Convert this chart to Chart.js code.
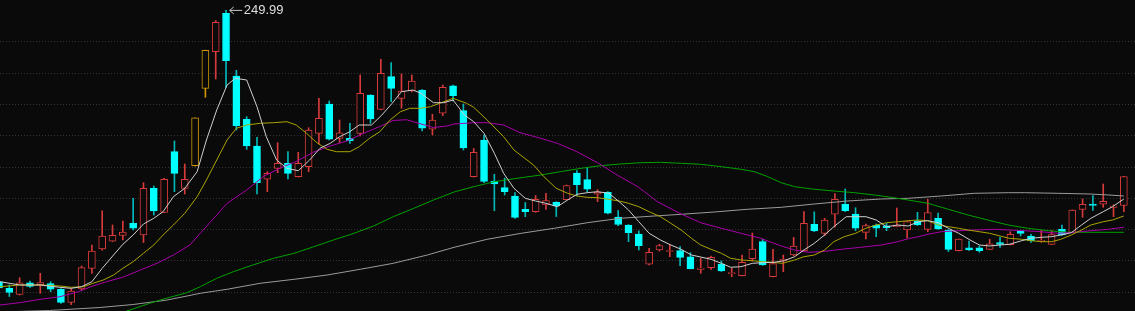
<!DOCTYPE html>
<html>
<head>
<meta charset="utf-8">
<script src="https://cdn.jsdelivr.net/npm/chart.js@4/dist/chart.umd.min.js"></script>
<style>
  html, body { margin: 0; padding: 0; background: #0a0a0a; overflow: hidden; }
  #wrap { position: relative; width: 1135px; height: 311px; }
</style>
</head>
<body>
<div id="wrap"><canvas id="c"></canvas></div>
<script>
// ---- candle data (index = trading day) ----
const opens = [163.39,161.28,159.31,163.07,162.43,162.82,160.97,156.75,161.06,167.61,
  173.89,176.29,178.20,182.03,178.30,193.20,185.54,204.89,193.20,200.42,
  225.12,236.81,249.06,229.05,215.23,206.71,196.08,199.59,201.19,196.91,
  200.10,210.76,220.11,209.16,209.16,210.76,222.99,218.42,228.83,221.93,
  224.26,224.58,212.04,217.15,225.95,217.98,196.91,208.62,195.53,193.46,
  190.75,186.50,185.74,187.87,188.74,189.57,198.09,195.95,191.32,191.93,
  184.04,181.49,178.62,168.95,173.51,173.03,173.35,171.37,167.35,167.86,
  169.04,165.95,165.31,170.73,176.16,164.99,170.00,171.91,173.19,181.71,
  178.84,184.91,188.10,185.00,179.16,181.39,181.24,180.95,179.89,182.83,
  180.05,183.63,179.89,173.29,174.24,174.24,173.73,175.90,175.20,179.67,
  177.98,176.22,175.33,180.12,179.10,186.50,188.13,188.10,187.14,187.71];
const closes = [161.38,159.94,163.07,161.92,163.14,161.00,156.75,160.42,167.86,173.19,
  177.98,178.20,179.26,180.44,193.20,186.02,196.08,197.99,196.08,215.69,
  237.26,246.19,233.93,213.19,206.71,194.99,197.99,201.19,197.99,201.19,
  211.81,215.55,208.85,210.95,208.40,223.53,215.33,229.91,225.12,224.26,
  227.46,212.36,215.01,225.44,222.76,206.07,204.70,195.38,194.58,192.12,
  183.95,185.74,189.69,189.31,187.62,194.10,194.35,192.89,192.02,185.23,
  181.65,179.03,174.88,172.78,174.95,173.35,171.18,167.54,167.76,171.18,
  166.81,166.26,169.58,173.83,168.72,169.14,170.54,174.79,182.03,179.64,
  183.09,189.72,186.05,180.44,181.27,180.44,180.63,181.43,182.61,181.49,
  185.48,180.21,173.73,176.96,173.51,173.29,175.52,175.33,178.55,178.84,
  176.45,176.61,178.46,178.30,186.28,188.10,187.71,189.06,187.56,196.97];
const highs = [163.93,162.34,164.67,163.62,166.07,163.39,161.22,161.16,168.40,175.11,
  186.02,181.49,182.77,190.01,194.99,193.94,196.40,208.30,200.96,215.69,
  237.30,246.77,249.99,230.87,216.06,209.48,198.50,207.76,204.89,204.70,
  212.55,221.93,221.07,215.01,213.95,229.37,223.10,234.38,233.30,229.69,
  229.37,224.70,216.83,226.18,226.18,220.11,205.91,210.22,197.67,196.49,
  191.80,188.67,190.91,191.61,188.93,194.26,198.89,199.91,192.82,192.18,
  186.12,181.60,179.58,174.05,175.33,175.27,174.63,172.65,170.86,171.60,
  170.00,167.67,171.91,178.94,176.96,173.73,171.91,177.56,185.74,185.70,
  183.63,191.54,192.98,187.01,181.81,181.81,182.03,186.92,182.70,185.54,
  189.69,185.32,180.00,177.00,176.38,174.79,176.96,177.56,179.35,179.83,
  178.52,179.83,179.80,181.49,186.35,189.79,190.91,194.58,187.97,197.00];
const lows = [160.90,158.67,159.15,161.60,159.69,160.20,156.43,156.05,160.74,166.07,
  173.41,176.16,176.70,179.89,175.90,184.68,185.40,192.12,191.39,200.30,
  222.25,228.09,225.44,211.81,205.65,191.39,192.12,198.18,196.17,196.81,
  198.50,207.35,208.62,207.82,207.57,209.90,213.95,218.20,220.85,218.74,
  223.94,211.50,210.22,216.38,221.07,205.43,196.80,194.99,186.05,191.07,
  183.63,184.14,185.54,186.50,184.20,189.47,190.75,192.02,188.93,185.00,
  181.27,176.16,173.51,168.72,173.19,171.37,168.50,167.45,166.07,167.35,
  166.65,164.99,165.20,170.00,168.60,164.90,166.58,171.69,173.10,179.35,
  178.07,180.76,185.74,179.67,177.02,177.76,179.67,180.90,177.25,181.33,
  179.35,180.05,173.03,173.20,173.35,172.78,173.67,174.31,175.11,177.98,
  175.97,175.97,175.27,178.14,179.03,183.95,186.12,187.14,184.14,185.74];
const limitUpDays = [19, 20];

// ---- moving averages: [day index, price] ----
const ma5 = [[0.1,163.39],[2.0,162.34],[4.0,162.34],[5.9,161.60],[7.0,161.28],[8.0,161.80],[9.0,163.39],
  [10.0,167.67],[11.1,171.91],[12.0,175.33],[13.0,178.30],[14.0,181.81],[15.0,183.63],[15.9,185.74],
  [16.9,190.52],[18.0,193.20],[19.2,198.50],[20.1,208.62],[21.1,218.20],[22.1,226.18],[22.9,228.32],
  [24.0,227.77],[25.0,219.25],[25.9,209.67],[26.9,202.24],[27.9,199.59],[29.0,198.82],[30.1,202.24],
  [31.1,205.97],[32.1,207.57],[33.0,209.67],[34.0,211.27],[34.9,213.41],[36.1,213.41],[37.1,216.60],
  [38.1,220.34],[39.0,224.04],[40.1,224.58],[40.9,223.53],[42.1,220.53],[43.1,220.53],[44.0,221.39],
  [45.1,216.60],[46.0,214.46],[47.0,210.76],[48.0,204.38],[48.9,197.99],[49.9,193.20],[51.0,190.01],
  [52.0,189.15],[53.0,188.42],[54.1,187.33],[55.1,189.47],[56.0,191.29],[57.0,191.80],[58.0,192.12],
  [59.1,191.61],[60.1,188.93],[61.0,186.28],[62.0,182.54],[63.0,178.84],[64.1,176.70],[65.1,175.11],
  [66.1,173.73],[67.1,171.91],[69.0,170.54],[70.0,169.26],[70.9,167.99],[71.9,168.18],[73.0,169.26],
  [74.0,169.46],[75.1,169.58],[76.1,170.10],[77.1,171.37],[78.0,173.51],[79.0,175.65],[80.0,178.30],
  [80.9,180.95],[82.1,184.14],[83.0,184.14],[84.0,184.14],[85.0,183.09],[86.0,180.95],[87.1,181.49],
  [88.1,181.17],[89.1,182.54],[90.0,182.86],[91.0,182.22],[92.0,180.44],[93.0,178.84],[94.1,176.70],
  [95.0,175.11],[96.0,174.79],[97.0,175.11],[97.9,175.33],[99.1,176.48],[100.0,177.25],[101.0,177.56],
  [102.0,177.76],[102.9,178.30],[103.9,179.03],[104.9,181.49],[105.8,183.63],[107.0,185.74],[107.9,187.33],
  [109.0,189.79]];
const ma10 = [[0.1,161.80],[2.0,162.34],[4.0,162.34],[5.9,162.02],[7.0,161.60],[8.2,161.80],[9.1,162.88],
  [10.1,163.93],[11.1,165.53],[12.0,167.67],[13.0,169.78],[14.0,172.46],[15.0,175.11],[15.9,178.30],
  [16.9,181.49],[18.0,185.22],[19.2,190.52],[20.1,195.85],[21.1,202.24],[22.1,208.62],[23.0,212.36],
  [24.0,213.41],[25.3,213.95],[26.6,214.14],[27.9,214.46],[28.8,213.41],[29.8,210.76],[30.8,207.76],
  [31.8,205.65],[32.7,204.89],[34.0,204.89],[34.9,206.48],[35.9,209.16],[36.9,211.27],[37.9,215.01],
  [38.9,217.66],[39.8,218.74],[40.8,218.74],[41.8,219.25],[42.7,220.34],[44.0,221.93],[45.3,220.34],
  [46.0,219.06],[47.3,215.01],[48.9,209.67],[49.9,205.43],[51.8,200.64],[52.8,196.91],[54.0,193.20],
  [55.1,191.61],[56.0,190.75],[57.0,190.33],[58.0,190.21],[59.1,189.69],[60.1,189.15],[61.0,188.42],
  [62.0,187.33],[63.0,185.74],[64.1,184.14],[65.1,182.03],[66.1,179.89],[67.1,177.25],[68.0,175.11],
  [69.0,173.73],[70.0,172.46],[70.9,170.86],[71.9,170.32],[73.0,170.10],[74.0,169.78],[75.0,169.58],
  [75.9,169.26],[77.1,170.32],[78.0,171.37],[79.0,171.91],[80.0,173.51],[80.9,176.16],[81.9,177.76],
  [83.0,178.84],[84.0,180.44],[85.0,181.49],[86.0,182.22],[87.1,182.54],[88.1,182.86],[89.1,183.09],
  [90.0,182.86],[91.0,181.49],[92.0,180.95],[93.0,180.44],[93.9,179.89],[95.0,179.35],[96.0,178.84],
  [97.0,177.98],[97.9,177.25],[99.1,176.93],[100.0,176.48],[101.0,176.16],[102.0,176.16],[102.9,176.93],
  [103.9,178.30],[104.9,179.89],[105.8,181.49],[107.0,182.54],[107.9,183.09],[109.0,184.36]];
const ma20 = [[0.1,155.95],[2.0,156.69],[4.0,157.78],[5.9,158.60],[7.7,160.20],[8.9,161.80],[10.4,163.39],
  [12.0,164.80],[13.7,167.13],[15.3,169.26],[16.9,171.91],[18.5,175.11],[19.5,178.84],[21.1,184.68],
  [22.1,188.42],[24.0,192.66],[25.6,196.91],[27.2,199.59],[28.8,201.76],[30.5,204.79],[32.1,206.71],
  [33.7,208.30],[35.3,210.70],[36.9,212.93],[38.2,214.85],[39.5,215.10],[40.8,213.83],[42.1,212.61],
  [43.4,213.09],[44.1,213.73],[46.0,214.14],[47.3,214.14],[48.9,213.41],[50.5,210.95],[52.5,209.16],
  [54.1,207.57],[56.0,204.89],[58.0,201.38],[59.9,197.45],[61.9,193.72],[63.8,188.93],[66.1,185.00],
  [68.0,182.22],[70.0,180.44],[71.9,178.84],[73.8,177.25],[75.8,174.79],[77.1,173.51],[78.4,172.78],
  [79.7,172.97],[81.6,173.73],[83.5,174.37],[85.5,175.11],[87.1,176.16],[88.1,177.12],[89.1,177.76],
  [90.0,178.52],[91.3,179.35],[93.0,179.67],[94.5,179.89],[96.5,180.12],[97.8,179.89],[99.4,179.67],
  [101.0,179.35],[102.6,178.84],[104.2,179.16],[105.8,179.67],[107.5,180.12],[109.0,180.76]];
const ma60 = [[9.8,151.17],[12.4,154.04],[14.6,156.50],[16.2,158.09],[18.2,159.88],[19.5,161.80],
  [21.1,164.48],[22.7,166.58],[24.6,168.72],[26.6,170.86],[28.6,172.46],[30.5,174.56],[32.4,176.70],
  [34.4,178.84],[36.3,181.17],[38.2,184.14],[40.2,186.82],[42.1,189.47],[44.1,192.02],[46.0,193.72],
  [48.0,195.31],[50.6,196.59],[52.5,197.45],[54.4,198.50],[56.4,199.59],[58.3,200.42],[60.2,200.96],
  [62.2,201.38],[64.1,201.50],[66.1,201.19],[68.0,200.87],[70.0,200.10],[71.9,199.27],[73.2,198.50],
  [74.5,196.91],[75.8,194.99],[77.1,193.72],[79.0,192.89],[80.9,192.34],[82.9,191.80],[84.8,191.07],
  [86.7,190.20],[88.1,189.47],[90.0,188.42],[92.0,186.50],[93.9,184.68],[95.8,183.09],[97.8,181.49],
  [99.7,180.44],[101.7,179.67],[103.6,179.16],[105.5,179.16],[109.0,179.16]];
const ma120 = [[0.1,153.72],[4.9,154.20],[9.8,155.16],[13.0,156.11],[16.3,157.55],[19.5,159.69],
  [22.1,160.97],[25.3,162.88],[28.6,164.16],[31.8,165.53],[35.0,167.35],[38.2,169.26],[41.5,171.91],
  [44.1,174.37],[47.3,176.93],[50.6,178.84],[53.8,180.44],[57.0,182.22],[60.2,183.63],[63.5,184.36],
  [66.1,184.90],[69.3,185.64],[72.5,186.50],[75.8,187.14],[79.0,188.19],[82.2,189.15],[85.5,189.79],
  [88.1,190.01],[91.3,190.75],[94.5,191.61],[97.8,191.80],[99.4,191.80],[102.6,191.61],[105.8,191.38],
  [107.5,191.07],[109.0,190.75]];
const gridPrices = [160,170,180,190,200,210,220,230,240];

// ---- styling ----
const BG = '#0a0a0a';
const UP = 'rgb(214,58,58)';
const DOWN = '#00ffff';
const DOWN_WICK = '#00b8b8';
const LIMIT = 'rgb(205,150,0)';

function kind(i) {
  if (limitUpDays.includes(i)) return 'limit';
  return closes[i] >= opens[i] ? 'up' : 'down';
}
const edgeColor = i => ({limit: LIMIT, up: UP, down: DOWN})[kind(i)];
const wickColor = i => ({limit: LIMIT, up: UP, down: DOWN_WICK})[kind(i)];
const fillColor = i => kind(i) === 'down' ? DOWN : BG;

const bgPlugin = {
  id: 'bg',
  beforeDraw(chart) {
    const c = chart.ctx;
    c.save(); c.fillStyle = BG; c.fillRect(0, 0, chart.width, chart.height); c.restore();
  }
};

const peakPlugin = {
  id: 'peak',
  afterDatasetsDraw(chart) {
    const xs = chart.scales.x, ys = chart.scales.y, c = chart.ctx;
    let k = 0;
    highs.forEach((h, i) => { if (h > highs[k]) k = i; });
    const px = xs.getPixelForValue(k) + 3.7;
    const py = ys.getPixelForValue(highs[k]);
    c.save();
    c.strokeStyle = '#c8c8c8';
    c.lineWidth = 1;
    c.beginPath();
    c.moveTo(px + 12.5, py); c.lineTo(px, py);
    c.moveTo(px + 4, py - 3.5); c.lineTo(px, py); c.lineTo(px + 4, py + 3.5);
    c.stroke();
    c.fillStyle = '#dedede';
    c.font = '13px "Liberation Sans", Arial, sans-serif';
    c.textBaseline = 'middle';
    c.textAlign = 'left';
    c.fillText(highs[k].toFixed(2), px + 14, py + 0.5);
    c.restore();
  }
};

const lineDs = (pts, color, order) => ({
  type: 'line',
  data: pts.map(([x, y]) => ({x, y})),
  borderColor: color,
  borderWidth: 1,
  pointRadius: 0,
  tension: 0,
  fill: false,
  order
});

new Chart(document.getElementById('c'), {
  type: 'bar',
  data: {
    datasets: [
      {
        data: lows.map((l, i) => ({x: i, y: [l, highs[i]]})),
        backgroundColor: ctx => wickColor(ctx.dataIndex),
        borderWidth: 0,
        barThickness: 1,
        grouped: false,
        order: 10
      },
      {
        data: opens.map((o, i) => ({x: i, y: [o, closes[i]]})),
        backgroundColor: ctx => fillColor(ctx.dataIndex),
        borderColor: ctx => edgeColor(ctx.dataIndex),
        borderWidth: 1,
        borderSkipped: false,
        barThickness: 7,
        minBarLength: 1,
        grouped: false,
        order: 9
      },
      lineDs(ma120, '#9a9a9a', 5),
      lineDs(ma60, '#00a000', 4),
      lineDs(ma20, '#a800a8', 3),
      lineDs(ma10, '#aaa400', 2),
      lineDs(ma5, '#cfcfcf', 1)
    ]
  },
  options: {
    responsive: true,
    maintainAspectRatio: false,
    animation: false,
    devicePixelRatio: 1,
    events: [],
    layout: { padding: 0 },
    plugins: { legend: { display: false }, tooltip: { enabled: false } },
    scales: {
      x: {
        type: 'linear',
        min: 0.0969,
        max: 110.08,
        display: false,
        offset: false
      },
      y: {
        type: 'linear',
        min: 154.04,
        max: 253.31,
        afterBuildTicks: axis => { axis.ticks = gridPrices.map(v => ({value: v})); },
        ticks: { display: false },
        grid: { color: '#343434', lineWidth: 1, drawTicks: false },
        border: { display: false, dash: [1, 2] }
      }
    }
  },
  plugins: [bgPlugin, peakPlugin]
});
</script>
</body>
</html>
